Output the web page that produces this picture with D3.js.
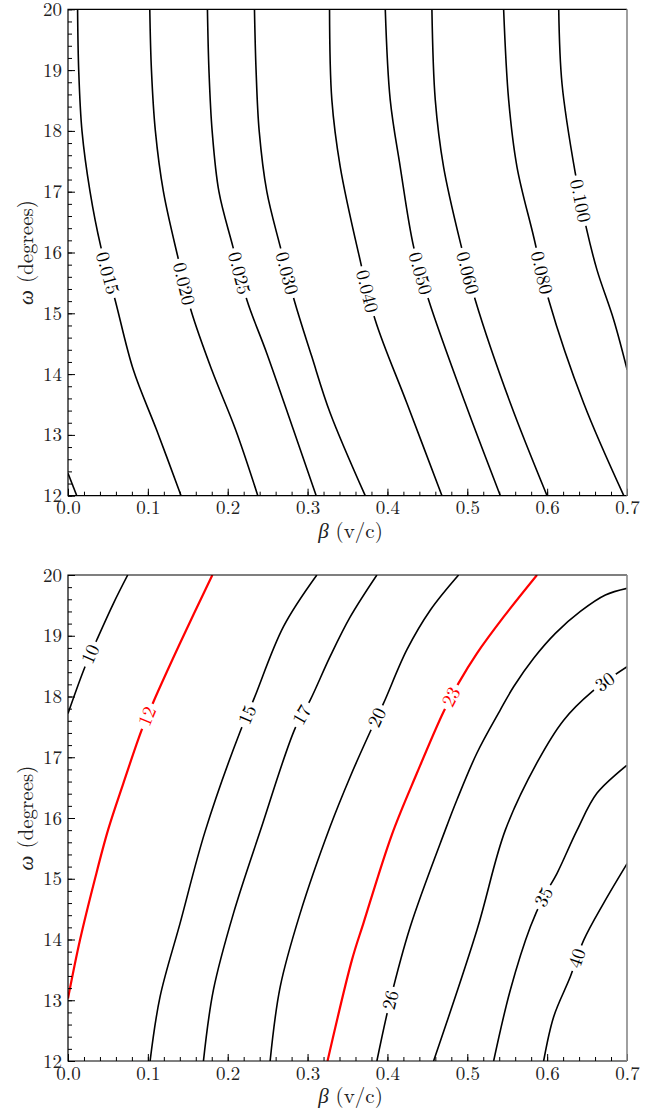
<!DOCTYPE html>
<html>
<head>
<meta charset="utf-8">
<script src="https://cdn.jsdelivr.net/npm/d3@7"></script>
<style>
  body { margin: 0; background: #fff; }
  svg { display: block; }
</style>
</head>
<body>
<svg id="chart" width="663" height="1110"></svg>
<script>
// оси
const betaTicks = [0.0, 0.1, 0.2, 0.3, 0.4, 0.5, 0.6, 0.7];
const omegaTicks = [12, 13, 14, 15, 16, 17, 18, 19, 20];

// верхний график: линии уровня [beta, omega]
const t010 = [[0, 12.37], [0.011, 12]];
const t015 = [[0.012, 20], [0.0134, 19], [0.0175, 18], [0.0276, 17], [0.041, 16.1], [0.059, 15.22], [0.0818, 14.07], [0.111, 13.08], [0.1416, 12]];
const t020 = [[0.1024, 20], [0.1045, 19], [0.1094, 18], [0.1195, 17], [0.1375, 15.93], [0.154, 15.05], [0.18, 14.07], [0.21, 13.08], [0.2377, 12]];
const t025 = [[0.1746, 20], [0.1765, 19], [0.1805, 18], [0.189, 17], [0.2064, 16.1], [0.224, 15.22], [0.249, 14.34], [0.2824, 13.08], [0.3108, 12]];
const t030 = [[0.2335, 20], [0.2355, 19], [0.2394, 18], [0.249, 17], [0.2657, 16.1], [0.2832, 15.22], [0.305, 14.3], [0.3283, 13.36], [0.3722, 12]];
const t040 = [[0.3275, 20], [0.3304, 18.51], [0.3409, 17.41], [0.3638, 15.99], [0.3847, 14.89], [0.4244, 13.52], [0.4683, 12]];
const t050 = [[0.3973, 20], [0.4035, 18.51], [0.416, 17.41], [0.4327, 16.1], [0.4516, 15.22], [0.4975, 13.52], [0.5414, 12]];
const t060 = [[0.4557, 20], [0.4599, 18.51], [0.4703, 17.41], [0.4925, 16.1], [0.51, 15.22], [0.554, 13.52], [0.5999, 12]];
const t080 = [[0.5455, 20], [0.5518, 18.51], [0.5622, 17.41], [0.5831, 16.26], [0.602, 15.22], [0.6458, 13.52], [0.696, 12]];
const t100 = [[0.6145, 20], [0.6186, 18.78], [0.6353, 17.3], [0.6491, 16.4], [0.6625, 15.71], [0.6834, 14.89], [0.7002, 14.07]];

// подписи верхнего графика: [текст, beta, omega]
const topLabels = [
    ["0.015", 0.05, 15.66], ["0.020", 0.1457, 15.49], ["0.025", 0.2152, 15.66],
    ["0.030", 0.2744, 15.66], ["0.040", 0.3753, 15.36], ["0.050", 0.4421, 15.66],
    ["0.060", 0.5006, 15.66], ["0.080", 0.5915, 15.66], ["0.100", 0.6426, 16.85]
];

// нижний график
const b10 = [[0, 17.72], [0.0213, 18.49], [0.036, 18.93], [0.0568, 19.53], [0.0748, 20]];
const b12 = [[0, 13.03], [0.015, 13.99], [0.0338, 15.0], [0.0501, 15.8], [0.0693, 16.57], [0.0923, 17.45], [0.1069, 17.91], [0.1404, 18.88], [0.1808, 20]];
const b15 = [[0.1028, 12], [0.1153, 13.06], [0.1404, 14.27], [0.1717, 15.78], [0.2155, 17.42], [0.2322, 17.94], [0.2698, 19.15], [0.3116, 20]];
const b17 = [[0.1696, 12], [0.1821, 13.17], [0.2072, 14.43], [0.2406, 15.78], [0.2845, 17.48], [0.3033, 17.94], [0.3283, 18.66], [0.3534, 19.31], [0.3868, 20]];
const b20 = [[0.2531, 12], [0.2657, 13.22], [0.2907, 14.43], [0.3283, 15.86], [0.3534, 16.68], [0.3784, 17.42], [0.3952, 17.89], [0.4244, 18.77], [0.4536, 19.42], [0.4891, 20]];
const b23 = [[0.325, 12], [0.3555, 13.66], [0.370, 14.27], [0.4054, 15.72], [0.437, 16.74], [0.4703, 17.75], [0.4891, 18.22], [0.5121, 18.71], [0.5455, 19.31], [0.5873, 20]];
const b26 = [[0.3868, 12], [0.4035, 13.0], [0.4286, 14.21], [0.4724, 15.8], [0.4871, 16.3], [0.5121, 17.07], [0.5414, 17.78], [0.558, 18.16], [0.5831, 18.63], [0.6103, 19.04], [0.6416, 19.4], [0.6729, 19.67], [0.7001, 19.78]];
const b30 = [[0.4578, 12], [0.5122, 14.16], [0.5476, 15.8], [0.5873, 16.91], [0.6207, 17.61], [0.6563, 18.08], [0.7001, 18.49]];
const b35 = [[0.533, 12], [0.5539, 13.17], [0.579, 14.21], [0.5956, 14.7], [0.6124, 15.09], [0.6375, 15.8], [0.6625, 16.41], [0.7001, 16.87]];
const b40 = [[0.5956, 12], [0.6082, 12.73], [0.6291, 13.39], [0.6458, 13.99], [0.6708, 14.6], [0.7001, 15.25]];

const bottomLabels = [
    ["10", 0.0284, 18.70], ["12", 0.0986, 17.68], ["15", 0.2239, 17.70],
    ["17", 0.2929, 17.70], ["20", 0.3847, 17.67], ["23", 0.4787, 18.0],
    ["26", 0.4044, 13.0], ["30", 0.6708, 18.27], ["35", 0.5956, 14.70],
    ["40", 0.6375, 13.69]
];
const redLevels = ["12", "23"];

const svg = d3.select("#chart");

const attr_area = { left: 68, right: 627 };
const fontCM = '"Latin Modern Roman", "Liberation Serif", serif';

function drawPanel(top, bottom, lines, labels, id) {
    const scX = d3.scaleLinear().domain([0, 0.7]).range([attr_area.left, attr_area.right]);
    const scY = d3.scaleLinear().domain([12, 20]).range([bottom, top]);
    const g = svg.append("g");

    g.append("clipPath").attr("id", "clip" + id)
        .append("rect")
        .attr("x", attr_area.left).attr("y", top)
        .attr("width", attr_area.right - attr_area.left).attr("height", bottom - top);

    const line = d3.line()
        .x(d => scX(d[0]))
        .y(d => scY(d[1]))
        .curve(d3.curveCatmullRom.alpha(0.5));

    const paths = {};
    const lg = g.append("g").attr("clip-path", `url(#clip${id})`);
    for (let l of lines) {
        const red = redLevels.includes(l.level);
        paths[l.level] = lg.append("path")
            .attr("d", line(l.points))
            .attr("fill", "none")
            .attr("stroke", red ? "#ff0000" : "#000")
            .attr("stroke-width", red ? 2.2 : 1.6)
            .node();
    }

    // подписи линий уровня, повернутые вдоль кривой
    for (let [txt, b, w] of labels) {
        const p = paths[txt];
        const px = scX(b), py = scY(w);
        const len = p.getTotalLength();
        let best = 0, bestD = Infinity;
        for (let s = 0; s <= len; s += 0.5) {
            const q = p.getPointAtLength(s);
            const dd = (q.x - px) ** 2 + (q.y - py) ** 2;
            if (dd < bestD) { bestD = dd; best = s; }
        }
        const c = p.getPointAtLength(best);
        const a1 = p.getPointAtLength(Math.max(0, best - 10));
        const a2 = p.getPointAtLength(Math.min(len, best + 10));
        let ang = Math.atan2(a2.y - a1.y, a2.x - a1.x) * 180 / Math.PI;
        if (ang > 90) ang -= 180;
        if (ang <= -90) ang += 180;

        const lbl = lg.append("g")
            .attr("transform", `translate(${c.x},${c.y}) rotate(${ang})`);
        const t = lbl.append("text")
            .attr("text-anchor", "middle")
            .attr("dy", "0.33em")
            .attr("font-size", 19)
            .style("font-family", fontCM)
            .attr("fill", redLevels.includes(txt) ? "#ff0000" : "#000")
            .text(txt);
        const bb = t.node().getBBox();
        lbl.insert("rect", "text")
            .attr("x", bb.x - 4).attr("y", -6)
            .attr("width", bb.width + 8).attr("height", 12)
            .attr("fill", "#fff");
    }

    // оси: основные и дополнительные деления внутрь
    const minorX = d3.range(0, 0.7001, 0.02);
    const minorY = d3.range(12, 20.001, 0.2);

    g.append("g")
        .attr("transform", `translate(0, ${bottom})`)
        .call(d3.axisBottom(scX).tickValues(minorX).tickSize(-4).tickSizeOuter(0).tickFormat(""))
        .call(a => a.select(".domain").remove());
    g.append("g")
        .attr("transform", `translate(0, ${bottom})`)
        .call(d3.axisBottom(scX).tickValues(betaTicks).tickSize(-7).tickSizeOuter(0)
            .tickPadding(5).tickFormat(d3.format(".1f")))
        .call(a => a.select(".domain").remove());

    g.append("g")
        .attr("transform", `translate(${attr_area.left}, 0)`)
        .call(d3.axisLeft(scY).tickValues(minorY).tickSize(-4).tickSizeOuter(0).tickFormat(""))
        .call(a => a.select(".domain").remove());
    g.append("g")
        .attr("transform", `translate(${attr_area.left}, 0)`)
        .call(d3.axisLeft(scY).tickValues(omegaTicks).tickSize(-7).tickSizeOuter(0)
            .tickPadding(6).tickFormat(d3.format("d")))
        .call(a => a.select(".domain").remove());

    g.selectAll(".tick line").attr("stroke", "#000").attr("stroke-width", 1);
    g.selectAll(".tick text")
        .attr("font-size", 19)
        .attr("fill", "#222")
        .style("font-family", fontCM);

    // рамка
    g.append("path")
        .attr("d", `M${attr_area.right},${top}H${attr_area.left}V${bottom}H${attr_area.right}`)
        .attr("fill", "none").attr("stroke", "#000").attr("stroke-width", 1.2);
    g.append("line")
        .attr("x1", attr_area.right).attr("x2", attr_area.right)
        .attr("y1", top).attr("y2", bottom)
        .attr("stroke", "#888").attr("stroke-width", 1.6);

    // подписи осей
    const xl = g.append("text")
        .attr("x", (attr_area.left + attr_area.right) / 2 + 3)
        .attr("y", bottom + 42)
        .attr("text-anchor", "middle")
        .attr("font-size", 21)
        .style("font-family", fontCM)
        .attr("fill", "#222");
    xl.append("tspan").attr("font-style", "italic").text("β");
    xl.append("tspan").text(" (v/c)");

    const yl = g.append("text")
        .attr("transform", `translate(33, ${(top + bottom) / 2}) rotate(-90)`)
        .attr("text-anchor", "middle")
        .attr("font-size", 21)
        .style("font-family", fontCM)
        .attr("fill", "#222");
    yl.append("tspan").attr("font-style", "italic").text("ω");
    yl.append("tspan").text(" (degrees)");
}

const topLines = [
    { level: "0.010", points: t010 }, { level: "0.015", points: t015 },
    { level: "0.020", points: t020 }, { level: "0.025", points: t025 },
    { level: "0.030", points: t030 }, { level: "0.040", points: t040 },
    { level: "0.050", points: t050 }, { level: "0.060", points: t060 },
    { level: "0.080", points: t080 }, { level: "0.100", points: t100 }
];
const bottomLines = [
    { level: "10", points: b10 }, { level: "12", points: b12 },
    { level: "15", points: b15 }, { level: "17", points: b17 },
    { level: "20", points: b20 }, { level: "23", points: b23 },
    { level: "26", points: b26 }, { level: "30", points: b30 },
    { level: "35", points: b35 }, { level: "40", points: b40 }
];

drawPanel(9.3, 495.7, topLines, topLabels, "a");
drawPanel(575, 1061, bottomLines, bottomLabels, "b");
</script>
</body>
</html>
